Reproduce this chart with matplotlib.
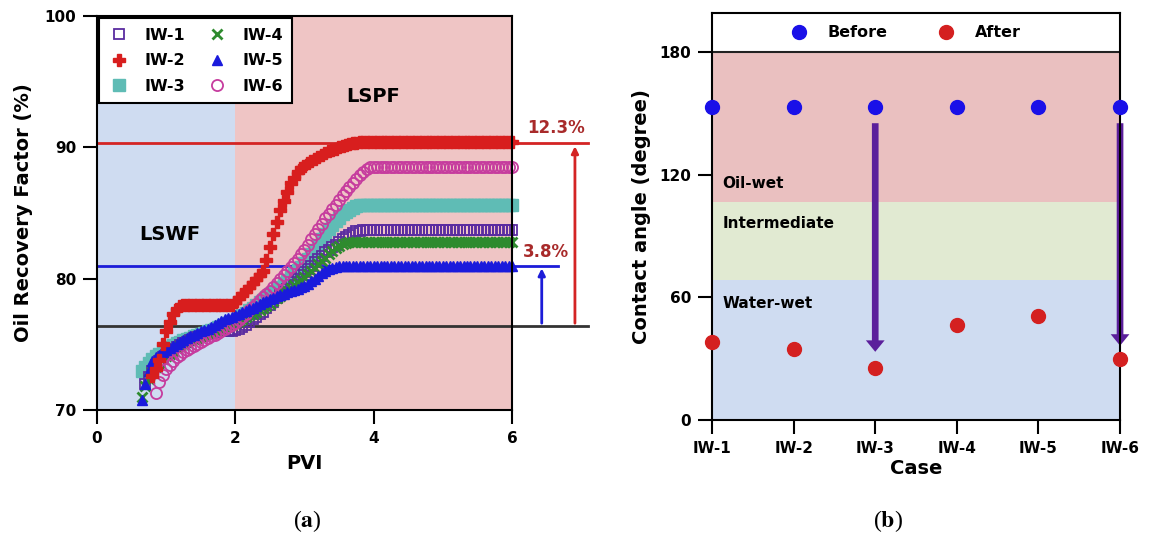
import numpy as np
import matplotlib.pyplot as plt

nan = np.nan

# =============================================================================
# # data (a): oil recovery factor vs PVI
# =============================================================================
pvi = [0.65, 0.70, 0.75, 0.80, 0.85, 0.90, 0.95, 1.00, 1.05, 1.10, 1.15, 1.20, 1.25, 1.30,
       1.35, 1.40, 1.45, 1.50, 1.55, 1.60, 1.65, 1.70, 1.75, 1.80, 1.85, 1.90, 1.95, 2.00,
       2.05, 2.10, 2.15, 2.20, 2.25, 2.30, 2.35, 2.40, 2.45, 2.50,
       2.55, 2.60, 2.65, 2.70, 2.75, 2.80, 2.85, 2.90, 2.95, 3.00,
       3.05, 3.10, 3.15, 3.20, 3.25, 3.30, 3.35, 3.40, 3.45, 3.50,
       3.55, 3.60, 3.65, 3.70, 3.75, 3.80, 3.85, 3.90, 3.95, 4.00,
       4.05, 4.10, 4.15, 4.20, 4.25, 4.30, 4.35, 4.40, 4.45, 4.50,
       4.55, 4.60, 4.65, 4.70, 4.75, 4.80, 4.85, 4.90, 4.95, 5.00,
       5.05, 5.10, 5.15, 5.20, 5.25, 5.30, 5.35, 5.40, 5.45, 5.50,
       5.55, 5.60, 5.65, 5.70, 5.75, 5.80, 5.85, 5.90, 5.95, 6.00]

iw1 = [nan, 72.0, 72.5, 73.0, 73.4, 73.7, 74.0, 74.2, 74.4, 74.6, 74.8, 74.95, 75.1, 75.2,
       75.35, 75.45, 75.55, 75.65, 75.75, 75.8, 75.9, 75.95, 76.0, 76.0, 76.0, 76.0, 76.05, 76.1,
       76.2, 76.35, 76.5, 76.7, 76.9, 77.1, 77.3, 77.5, 77.75, 78.0,
       78.25, 78.5, 78.75, 79.0, 79.25, 79.5, 79.75, 80.0, 80.25, 80.5,
       80.75, 81.0, 81.25, 81.5, 81.75, 82.0, 82.2, 82.4, 82.6, 82.8,
       83.0, 83.2, 83.35, 83.5, 83.6, 83.65, 83.7, 83.7, 83.7, 83.7,
       83.7, 83.7, 83.7, 83.7, 83.7, 83.7, 83.7, 83.7, 83.7, 83.7,
       83.7, 83.7, 83.7, 83.7, 83.7, 83.7, 83.7, 83.7, 83.7, 83.7,
       83.7, 83.7, 83.7, 83.7, 83.7, 83.7, 83.7, 83.7, 83.7, 83.7,
       83.7, 83.7, 83.7, 83.7, 83.7, 83.7, 83.7, 83.7, 83.7, 83.7]

iw2 = [nan, nan, nan, 72.6, 73.1, 73.8, 75.0, 76.0, 76.7, 77.3, 77.7, 77.9, 78.0, 78.0,
       78.0, 78.0, 78.0, 78.0, 78.0, 78.0, 78.0, 78.0, 78.0, 78.0, 78.0, 78.0, 78.0, 78.2,
       78.5, 78.8, 79.1, 79.4, 79.7, 80.0, 80.3, 80.6, 81.4, 82.4,
       83.4, 84.3, 85.2, 85.9, 86.6, 87.3, 87.7, 88.1, 88.4, 88.6,
       88.8, 89.0, 89.15, 89.3, 89.45, 89.6, 89.7, 89.8, 89.9, 90.0,
       90.1, 90.2, 90.25, 90.3, 90.35, 90.4, 90.4, 90.4, 90.4, 90.4,
       90.4, 90.4, 90.4, 90.4, 90.4, 90.4, 90.4, 90.4, 90.4, 90.4,
       90.4, 90.4, 90.4, 90.4, 90.4, 90.4, 90.4, 90.4, 90.4, 90.4,
       90.4, 90.4, 90.4, 90.4, 90.4, 90.4, 90.4, 90.4, 90.4, 90.4,
       90.4, 90.4, 90.4, 90.4, 90.4, 90.4, 90.4, 90.4, 90.4, 90.4]

iw3 = [73.0, 73.3, 73.6, 73.9, 74.1, 74.3, 74.5, 74.65, 74.8, 74.95, 75.1, 75.2, 75.3, 75.4,
       75.5, 75.6, 75.7, 75.8, 75.9, 76.0, 76.1, 76.2, 76.3, 76.4, 76.5, 76.6, 76.7, 76.8,
       77.0, 77.2, 77.4, 77.6, 77.8, 78.0, 78.2, 78.4, 78.6, 78.8,
       79.0, 79.2, 79.4, 79.65, 79.9, 80.15, 80.4, 80.65, 80.9, 81.2,
       81.5, 81.85, 82.2, 82.6, 83.0, 83.4, 83.75, 84.1, 84.4, 84.65,
       84.9, 85.1, 85.25, 85.4, 85.5, 85.6, 85.6, 85.6, 85.6, 85.6,
       85.6, 85.6, 85.6, 85.6, 85.6, 85.6, 85.6, 85.6, 85.6, 85.6,
       85.6, 85.6, 85.6, 85.6, 85.6, 85.6, 85.6, 85.6, 85.6, 85.6,
       85.6, 85.6, 85.6, 85.6, 85.6, 85.6, 85.6, 85.6, 85.6, 85.6,
       85.6, 85.6, 85.6, 85.6, 85.6, 85.6, 85.6, 85.6, 85.6, 85.6]

iw4 = [71.0, 71.8, 72.4, 72.9, 73.3, 73.6, 73.9, 74.1, 74.3, 74.5, 74.7, 74.85, 75.0, 75.15,
       75.3, 75.4, 75.5, 75.6, 75.7, 75.8, 75.9, 76.0, 76.1, 76.2, 76.3, 76.4, 76.5, 76.6,
       76.75, 76.9, 77.05, 77.2, 77.35, 77.5, 77.65, 77.8, 77.95, 78.1,
       78.3, 78.5, 78.7, 78.9, 79.1, 79.3, 79.5, 79.7, 79.9, 80.1,
       80.35, 80.6, 80.85, 81.1, 81.35, 81.6, 81.85, 82.1, 82.3, 82.5,
       82.65, 82.75, 82.8, 82.8, 82.8, 82.8, 82.8, 82.8, 82.8, 82.8,
       82.8, 82.8, 82.8, 82.8, 82.8, 82.8, 82.8, 82.8, 82.8, 82.8,
       82.8, 82.8, 82.8, 82.8, 82.8, 82.8, 82.8, 82.8, 82.8, 82.8,
       82.8, 82.8, 82.8, 82.8, 82.8, 82.8, 82.8, 82.8, 82.8, 82.8,
       82.8, 82.8, 82.8, 82.8, 82.8, 82.8, 82.8, 82.8, 82.8, 82.8]

iw5 = [70.8, 72.0, 73.0, 73.7, 74.0, 74.2, 74.4, 74.55, 74.7, 74.85, 75.0, 75.15, 75.3, 75.45,
       75.6, 75.75, 75.9, 76.0, 76.1, 76.2, 76.3, 76.45, 76.6, 76.75, 76.9, 77.0, 77.1, 77.2,
       77.3, 77.45, 77.55, 77.7, 77.8, 77.95, 78.05, 78.2, 78.3, 78.45,
       78.55, 78.65, 78.75, 78.85, 78.95, 79.05, 79.15, 79.25, 79.35, 79.45,
       79.6, 79.8, 80.0, 80.2, 80.4, 80.6, 80.75, 80.85, 80.9, 80.95,
       81.0, 81.0, 81.0, 81.0, 81.0, 81.0, 81.0, 81.0, 81.0, 81.0,
       81.0, 81.0, 81.0, 81.0, 81.0, 81.0, 81.0, 81.0, 81.0, 81.0,
       81.0, 81.0, 81.0, 81.0, 81.0, 81.0, 81.0, 81.0, 81.0, 81.0,
       81.0, 81.0, 81.0, 81.0, 81.0, 81.0, 81.0, 81.0, 81.0, 81.0,
       81.0, 81.0, 81.0, 81.0, 81.0, 81.0, 81.0, 81.0, 81.0, 81.0]

iw6 = [nan, nan, nan, nan, 71.3, 72.1, 72.7, 73.1, 73.4, 73.7, 74.0, 74.2, 74.4, 74.6,
       74.75, 74.9, 75.05, 75.2, 75.35, 75.5, 75.6, 75.75, 75.9, 76.0, 76.15, 76.3, 76.45, 76.6,
       76.85, 77.1, 77.35, 77.6, 77.85, 78.1, 78.35, 78.6, 78.85, 79.1,
       79.4, 79.7, 80.0, 80.3, 80.6, 80.9, 81.2, 81.5, 81.85, 82.2,
       82.6, 83.0, 83.4, 83.8, 84.2, 84.6, 84.95, 85.3, 85.65, 86.0,
       86.35, 86.7, 87.0, 87.3, 87.6, 87.9, 88.15, 88.35, 88.5, 88.5,
       88.5, 88.5, 88.5, 88.5, 88.5, 88.5, 88.5, 88.5, 88.5, 88.5,
       88.5, 88.5, 88.5, 88.5, 88.5, 88.5, 88.5, 88.5, 88.5, 88.5,
       88.5, 88.5, 88.5, 88.5, 88.5, 88.5, 88.5, 88.5, 88.5, 88.5,
       88.5, 88.5, 88.5, 88.5, 88.5, 88.5, 88.5, 88.5, 88.5, 88.5]

rf_base = 76.4      # black reference line
rf_iw5 = 81.0       # blue line
rf_iw2 = 90.3       # red line
gain_labels = ["12.3%", "3.8%"]

# =============================================================================
# # data (b): contact angle before / after
# =============================================================================
cases = ["IW-1", "IW-2", "IW-3", "IW-4", "IW-5", "IW-6"]
angle_before = [153, 153, 153, 153, 153, 153]
angle_after = [38.4, 34.7, 25.2, 46.7, 51.1, 29.7]
arrow_cases = [2, 5]
arrow_tips = [32, 35]

plt.rcParams['font.family'] = 'DejaVu Sans'
plt.rcParams['font.weight'] = 'bold'
plt.rcParams['mathtext.fontset'] = 'stix'

fig = plt.figure(figsize=(11.49, 5.35), dpi=100)

# =============================================================================
# # panel (a)
# =============================================================================
ax1 = fig.add_axes([0.0844, 0.2336, 0.3612, 0.7364])
ax1.axvspan(0, 2, color='#cfdcf1', zorder=0, lw=0)
ax1.axvspan(2, 6, color='#efc5c5', zorder=0, lw=0)

ax1.plot([0, 7.1], [rf_iw2, rf_iw2], color='#d42424', lw=2, clip_on=False, zorder=1.5)
ax1.plot([0, 6.67], [rf_iw5, rf_iw5], color='#1c1cd8', lw=2, clip_on=False, zorder=1.5)
ax1.plot([0, 7.1], [rf_base, rf_base], color='#333333', lw=2, clip_on=False, zorder=1.5)
ax1.annotate('', xy=(6.91, rf_iw2), xytext=(6.91, rf_base), annotation_clip=False,
             arrowprops=dict(arrowstyle='-|>,head_width=0.2,head_length=0.4', color='#d42424', lw=2))
ax1.annotate('', xy=(6.43, rf_iw5), xytext=(6.43, rf_base), annotation_clip=False,
             arrowprops=dict(arrowstyle='-|>,head_width=0.2,head_length=0.4', color='#1c1cd8', lw=2))
ax1.text(6.64, 91.45, gain_labels[0], color='#a82a2a', fontsize=12, ha='center', va='center', clip_on=False)
ax1.text(6.49, 82.0, gain_labels[1], color='#a82a2a', fontsize=12, ha='center', va='center', clip_on=False)

ax1.text(1.06, 83.4, "LSWF", fontsize=14, ha='center', va='center')
ax1.text(3.99, 93.9, "LSPF", fontsize=14, ha='center', va='center')

h3, = ax1.plot(pvi, iw3, ls='none', marker='s', ms=8, color='#5fbcb5', clip_on=False, label='IW-3')
h1, = ax1.plot(pvi, iw1, ls='none', marker='s', ms=7, mfc='none', mec='#5a2ca0', mew=1.3, clip_on=False, label='IW-1')
h4, = ax1.plot(pvi, iw4, ls='none', marker='x', ms=7, mew=2, color='#2e8b2e', clip_on=False, label='IW-4')
h6, = ax1.plot(pvi, iw6, ls='none', marker='o', ms=8, mfc='none', mec='#c63c9e', mew=1.3, clip_on=False, label='IW-6')
h5, = ax1.plot(pvi, iw5, ls='none', marker='^', ms=7, color='#1a1adc', clip_on=False, label='IW-5')
h2, = ax1.plot(pvi, iw2, ls='none', marker='P', ms=8, color='#d81e1e', clip_on=False, label='IW-2')

leg = ax1.legend(handles=[h1, h2, h3, h4, h5, h6], loc='upper left', ncol=2, fontsize=11.5,
                 fancybox=False, edgecolor='black', framealpha=1, borderaxespad=0.15,
                 borderpad=0.6, labelspacing=0.65, columnspacing=1.4, handletextpad=1.0,
                 handlelength=1.2)
leg.get_frame().set_linewidth(1.5)

ax1.set_xlim(0, 6)
ax1.set_ylim(70, 100)
ax1.set_xticks([0, 2, 4, 6])
ax1.set_yticks([70, 80, 90, 100])
ax1.tick_params(length=10, width=1.5, labelsize=11, pad=5)
for s in ax1.spines.values():
    s.set_linewidth(1.5)
ax1.set_xlabel("PVI", fontsize=14, fontweight='bold', labelpad=6)
ax1.set_ylabel("Oil Recovery Factor (%)", fontsize=14, fontweight='bold', labelpad=8)

# =============================================================================
# # panel (b)
# =============================================================================
ax2 = fig.add_axes([0.6197, 0.215, 0.3551, 0.760])
ax2.axhspan(0, 68.5, color='#cfdcf1', lw=0, zorder=0)
ax2.axhspan(68.5, 106.6, color='#e1ead2', lw=0, zorder=0)
ax2.axhspan(106.6, 180, color='#eac0c0', lw=0, zorder=0)
ax2.axhline(180, color='#222222', lw=1.5, zorder=1)

ax2.text(0.13, 115.6, "Oil-wet", fontsize=11, va='center')
ax2.text(0.13, 96, "Intermediate", fontsize=11, va='center')
ax2.text(0.13, 57, "Water-wet", fontsize=11, va='center')

for i, tip in zip(arrow_cases, arrow_tips):
    ax2.annotate('', xy=(i, tip), xytext=(i, 146.6), annotation_clip=False,
                 arrowprops=dict(arrowstyle='simple,head_width=0.9,head_length=0.55,tail_width=0.32',
                                 mutation_scale=15, color='#5b1f9b', lw=0), zorder=2)

xc = np.arange(len(cases))
ax2.plot(xc, angle_before, ls='none', marker='o', ms=10, color='#1a10e8', clip_on=False, zorder=3, label='Before')
ax2.plot(xc, angle_after, ls='none', marker='o', ms=10, color='#d42020', clip_on=False, zorder=3, label='After')
ax2.legend(loc='center', bbox_to_anchor=(0.475, 0.952), ncol=2, frameon=False, fontsize=11.5,
           columnspacing=3.2, handletextpad=1.3, handlelength=1.0)

ax2.set_xlim(0, 5)
ax2.set_ylim(0, 199)
ax2.set_xticks(xc)
ax2.set_xticklabels(cases)
ax2.set_yticks([0, 60, 120, 180])
ax2.tick_params(length=10, width=1.5, labelsize=11, pad=5)
for s in ax2.spines.values():
    s.set_linewidth(1.5)
ax2.set_xlabel("Case", fontsize=14, fontweight='bold', labelpad=2)
ax2.set_ylabel("Contact angle (degree)", fontsize=14, fontweight='bold', labelpad=6)

fig.text(0.267, 0.015, r'($\mathbf{a}$)', fontsize=17, family='Liberation Serif', fontweight='normal', ha='center')
fig.text(0.773, 0.015, r'($\mathbf{b}$)', fontsize=17, family='Liberation Serif', fontweight='normal', ha='center')

plt.savefig("out.png", dpi=100)
